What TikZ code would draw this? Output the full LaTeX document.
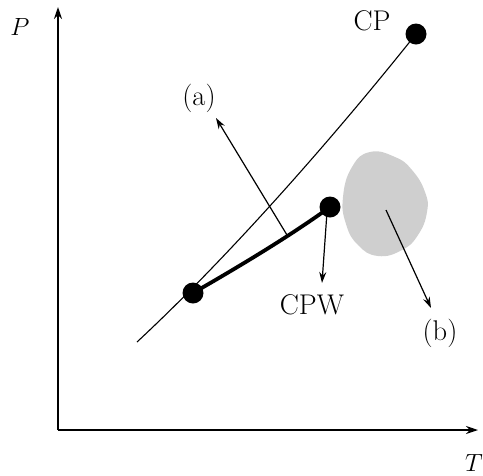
\documentclass[tikz,border=0pt]{standalone}
\usetikzlibrary{arrows.meta}
\begin{document}
\begin{tikzpicture}[x=1pt,y=-1pt,
  lbl/.style={inner sep=0pt,font=\fontsize{28.5}{33}\selectfont},
  dot/.style={circle,fill=black,minimum size=21pt,inner sep=0pt},
  axis/.style={line width=1.3pt,-{Stealth[length=12pt,width=8pt]}},
  arr/.style={line width=1.2pt,-{Stealth[length=11pt,width=7pt]}}]
\useasboundingbox (0,0) rectangle (483,475);
% axes
\coordinate (o) at (58,430);
\coordinate (ytip) at (58,7);
\coordinate (xtip) at (478,430);
\draw[axis] (o) -- (ytip);
\draw[axis] (o) -- (xtip);
\node[lbl] (P) at (20,27) {$P$};
\node[lbl] (T) at (474,463) {$T$};
% gray region
\fill[gray!38] plot[smooth cycle,tension=0.8] coordinates {
  (370,152) (395,157) (412,170) (425,192) (427,212) (418,235) (402,250) (378,256) (358,245) (346,224) (343,197) (352,167)};
% dots
\node[dot] (cp) at (416,34) {};
\node[dot] (low) at (193,293) {};
\node[dot] (cpw) at (330,207) {};
% coexistence line
\coordinate (s) at (137,342);
\draw[line width=1.1pt] (s) .. controls (238,248) and (346,122) .. (cp.center);
% thick line
\draw[line width=3.8pt] (low.center) .. controls (240,266) and (290,236) .. (cpw.center);
% arrows
\coordinate (a0) at (287,235);
\coordinate (a1) at (216,118);
\draw[arr] (a0) -- (a1);
\coordinate (w0) at (327,212);
\coordinate (w1) at (322,283);
\draw[arr] (w0) -- (w1);
\coordinate (b0) at (386,210);
\coordinate (b1) at (431,308);
\draw[arr] (b0) -- (b1);
% labels
\node[lbl] (la) at (199,98) {(a)};
\node[lbl] (lb) at (440,333) {(b)};
\node[lbl] (lcp) at (372,21) {CP};
\node[lbl] (lcpw) at (312,305) {CPW};
\end{tikzpicture}
\end{document}
